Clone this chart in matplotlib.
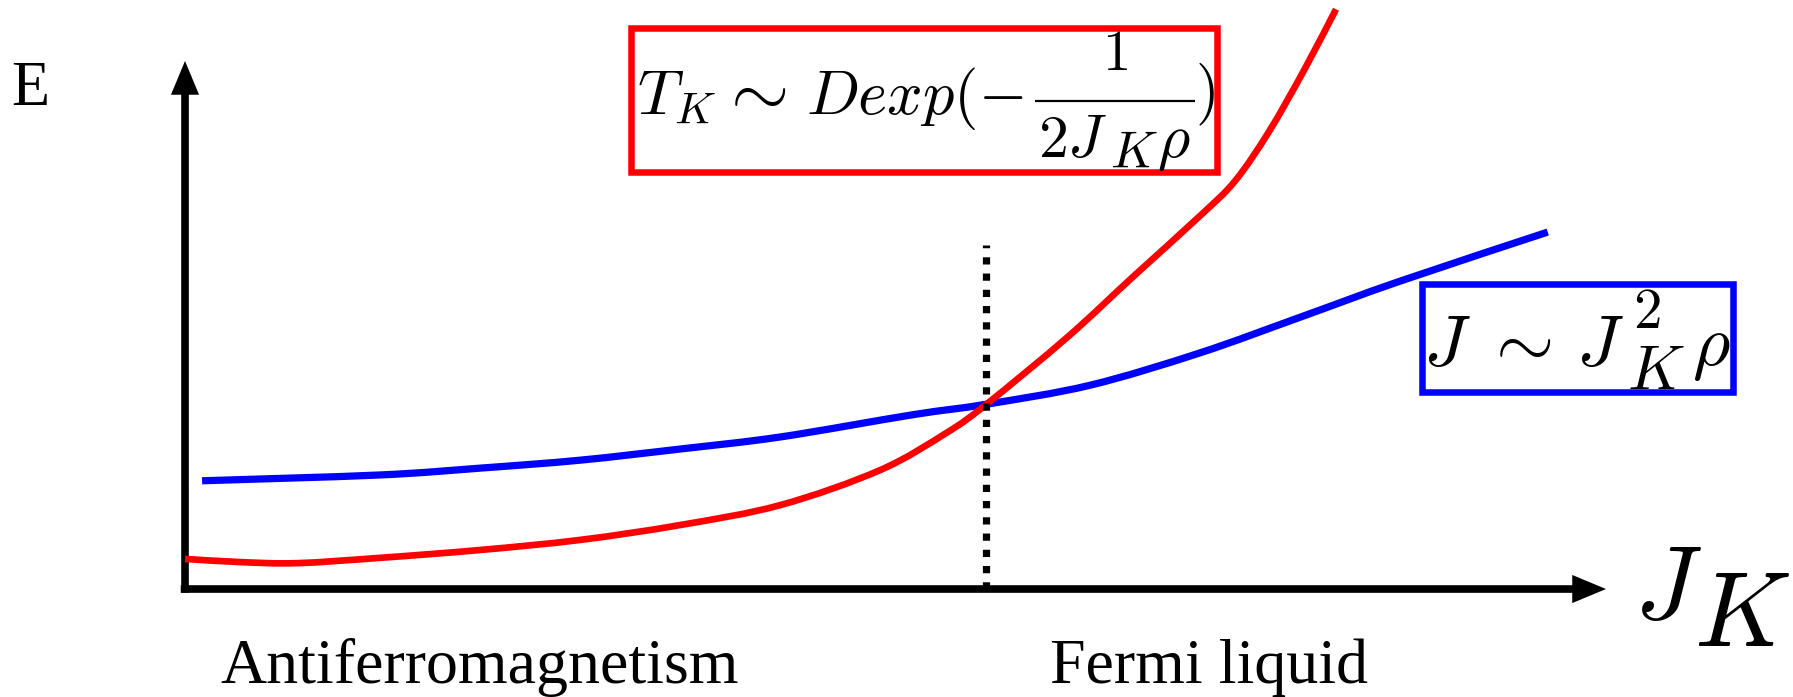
import matplotlib
matplotlib.use("Agg")
import numpy as np
import matplotlib.pyplot as plt
from matplotlib.patches import Rectangle, PathPatch
from matplotlib.path import Path

plt.rcParams["mathtext.fontset"] = "cm"

# Schematic Doniach diagram: coupling J_K on x, energy scale E on y
# RKKY scale  J ~ J_K^2 rho
jk_rkky = [0.12, 1.37, 2.08, 2.78, 3.48, 4.19, 5.12, 5.64, 6.37, 7.14, 7.85, 8.55, 9.59]
e_rkky = [2.05, 2.16, 2.29, 2.44, 2.65, 2.88, 3.30, 3.50, 3.86, 4.47, 5.15, 5.83, 6.76]

# Kondo scale  T_K ~ D exp(-1 / (2 J_K rho))
jk_kondo = [0.00, 0.39, 0.79, 1.37, 2.08, 2.78, 3.48, 4.19, 4.89, 5.36, 5.64,
            6.21, 6.67, 7.14, 7.39, 7.63, 7.88, 8.10]
e_kondo = [0.57, 0.51, 0.49, 0.59, 0.74, 0.93, 1.21, 1.59, 2.25, 2.96, 3.50,
           4.77, 5.91, 7.06, 7.73, 8.67, 9.85, 10.98]

# Crossover point between the two phases
jk_cross = 5.64
e_cross_top = 6.52

phase_labels = ["Antiferromagnetism", "Fermi liquid"]
phase_label_x = [0.25, 6.09]


def smooth_path(xs, ys):
    """Catmull-Rom curve through the given points, as cubic Bezier segments."""
    p = np.column_stack([xs, ys]).astype(float)
    ext = np.vstack([p[0], p, p[-1]])
    verts = [p[0]]
    codes = [Path.MOVETO]
    for i in range(1, len(ext) - 2):
        p0, p1, p2, p3 = ext[i - 1], ext[i], ext[i + 1], ext[i + 2]
        verts += [p1 + (p2 - p0) / 6.0, p2 - (p3 - p1) / 6.0, p2]
        codes += [Path.CURVE4] * 3
    return Path(verts, codes)


W, H, DPI = 1793, 697, 100
fig = plt.figure(figsize=(W / DPI, H / DPI), dpi=DPI)
ax = fig.add_axes([0, 0, 1, 1])
ax.set_xlim(-1.302, 11.316)
ax.set_ylim(-2.045, 11.155)
ax.axis("off")

# Axes drawn as arrows
arrow_kw = dict(arrowstyle="-|>,head_length=0.72,head_width=0.3", mutation_scale=20,
                lw=5.5, color="black", shrinkA=0, shrinkB=0,
                joinstyle="miter", capstyle="butt")
ax.annotate("", xy=(10.0, 0.0), xytext=(-0.03, 0.0), arrowprops=arrow_kw)
ax.annotate("", xy=(0.0, 10.0), xytext=(0.0, -0.07), arrowprops=arrow_kw)

# Energy scales
ax.add_patch(PathPatch(smooth_path(jk_rkky, e_rkky), fill=False, edgecolor="#0000ff",
                       lw=5.2, capstyle="butt", joinstyle="round", zorder=3))
ax.add_patch(PathPatch(smooth_path(jk_kondo, e_kondo), fill=False, edgecolor="#ff0000",
                       lw=4.8, capstyle="butt", joinstyle="round", zorder=4,
                       clip_on=False))

# Crossover marker
ax.plot([jk_cross, jk_cross], [0.0, e_cross_top], color="black", lw=5.2,
        linestyle=(0, (1, 1.25)), dash_capstyle="butt", zorder=5)


def put(x, y, s, size, ha="left", va="baseline"):
    ax.text(x, y, s, fontsize=size, ha=ha, va=va, zorder=6)


# Kondo formula box:  T_K ~ D exp(-1 / (2 J_K rho))
ax.add_patch(Rectangle((3.139, 7.898), 7.262 - 3.139, 10.625 - 7.898,
                       fill=False, edgecolor="#ff0000", lw=4.7, zorder=2,
                       joinstyle="miter"))
put(3.181, 8.996, r"$T_K$", 46)
put(3.990, 8.996, r"$\sim$", 54, ha="center")
put(4.370, 8.996, r"$Dexp(-$", 45)
put(6.545, 9.830, r"$\mathsf{1}$", 41, ha="center")
ax.plot([5.982, 7.108], [9.242, 9.242], color="black", lw=1.6,
        solid_capstyle="butt", zorder=6)
put(6.003, 8.182, r"$\mathsf{2}J$", 43)
put(6.510, 7.973, r"$K$", 37)
put(6.840, 8.182, r"$\rho$", 45)
put(7.108, 9.072, r"$)$", 44)

# RKKY formula box:  J ~ J_K^2 rho
ax.add_patch(Rectangle((8.708, 3.731), 10.894 - 8.708, 5.777 - 3.731,
                       fill=False, edgecolor="#0000ff", lw=4.7, zorder=2,
                       joinstyle="miter"))
put(8.712, 4.242, r"$J$", 52)
put(9.370, 4.242, r"$\sim$", 54, ha="center")
put(9.790, 4.242, r"$J$", 52)
put(10.150, 3.790, r"$K$", 45)
put(10.190, 4.950, r"$\mathsf{2}$", 41)
put(10.605, 4.242, r"$\rho$", 52)

# Axis labels
serif = "Liberation Serif"
ax.text(-1.224, 9.167, "E", family=serif, fontsize=45, ha="left", va="baseline")
put(10.200, -0.570, r"$J$", 75)
put(10.620, -1.080, r"$K$", 76)

for label, x in zip(phase_labels, phase_label_x):
    ax.text(x, -1.78, label, family=serif, fontsize=46, ha="left", va="baseline")

fig.savefig("out.png", dpi=DPI)
